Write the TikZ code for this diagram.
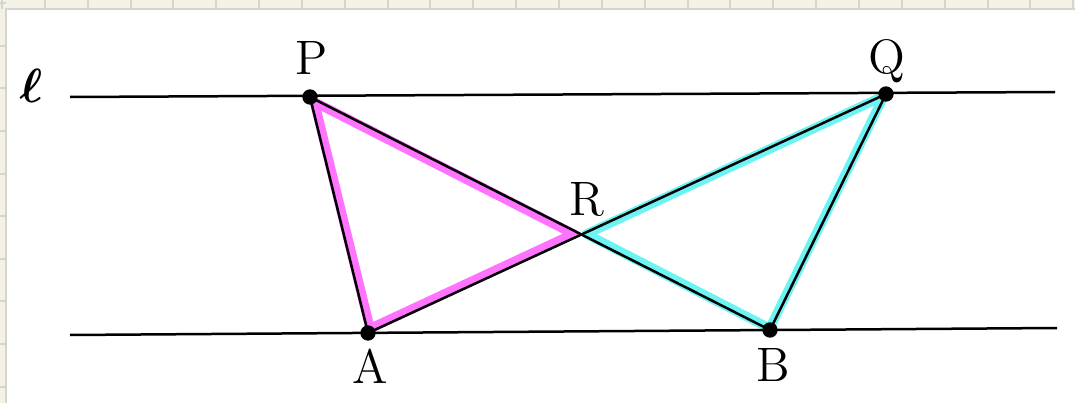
\documentclass[tikz,border=0pt]{standalone}
\usepackage{amsmath}
\usepackage{bm}
\usetikzlibrary{calc}
\definecolor{trimag}{HTML}{FF73FF}
\definecolor{tricyan}{HTML}{6CF4F4}
\definecolor{gridbg}{HTML}{F4F2E4}
\definecolor{gridln}{HTML}{D4D4D0}
\tikzset{
  pline/.style={line width=0.75pt, black},
  hilite/.style={line width=2.8pt, line join=round, line cap=round},
  pdot/.style={circle, fill=black, inner sep=0pt, minimum size=4.6pt},
  plabel/.style={font=\fontsize{14.5}{17}\selectfont, inner sep=0pt, anchor=base},
}
\begin{document}
\begin{tikzpicture}[x=0.3pt, y=-0.3pt]
  \useasboundingbox (0,0) rectangle (1075,403);
  % sheet background with the grid strips
  \fill[gridbg] (0,0) rectangle (1075,403);
  \foreach \gx in {2,45,88,131,173,216,259,302,345,388,430,473,516,559,602,645,688,730,773,816,859,902,945,988,1030,1073}
    \draw[gridln, line width=0.6pt] (\gx,0) -- (\gx,9);
  \foreach \gy in {3,46,88,131,174,216,259,301,344,387}
    \draw[gridln, line width=0.6pt] (0,\gy) -- (6,\gy);
  \fill[white] (6,9) rectangle (1075,403);
  \draw[gridln, line width=0.6pt] (6,403) -- (6,9) -- (1075,9);

  % points
  \coordinate (P) at (310,97);
  \coordinate (Q) at (886,94);
  \coordinate (A) at (368,333);
  \coordinate (B) at (770,330);
  \coordinate (R) at (intersection of P--B and A--Q);
  \coordinate (l1) at (70,97);
  \coordinate (l2) at (1055,92);
  \coordinate (m1) at (70,335);
  \coordinate (m2) at (1057,328);

  % centroids for the highlighted triangles
  \coordinate (pr) at ($(P)!0.5!(R)$);
  \coordinate (gm) at ($(A)!2/3!(pr)$);
  \coordinate (qr) at ($(Q)!0.5!(R)$);
  \coordinate (gc) at ($(B)!2/3!(qr)$);

  \draw[hilite, trimag] ($(gm)!0.96!(P)$) -- ($(gm)!0.95!(R)$) -- ($(gm)!0.96!(A)$) -- cycle;
  \draw[hilite, tricyan] ($(gc)!0.985!(Q)$) -- ($(gc)!0.97!(R)$) -- ($(gc)!0.985!(B)$) -- cycle;

  % parallel lines
  \draw[pline] (l1) -- (l2);
  \draw[pline] (m1) -- (m2);
  % segments
  \draw[pline] (P) -- (A);
  \draw[pline] (P) -- (B);
  \draw[pline] (A) -- (Q);
  \draw[pline] (Q) -- (B);

  \node[pdot] (dP) at (P) {};
  \node[pdot] (dQ) at (Q) {};
  \node[pdot] (dA) at (A) {};
  \node[pdot] (dB) at (B) {};

  \node[plabel] (lP) at (312,75) {P};
  \node[plabel] (lQ) at (887,73) {Q};
  \node[plabel] (lR) at (587,215) {R};
  \node[plabel] (lA) at (370,383) {A};
  \node[plabel] (lB) at (773,381) {B};
  \node[plabel] (ll) at (31,103) {$\bm{\ell}$};
\end{tikzpicture}
\end{document}
